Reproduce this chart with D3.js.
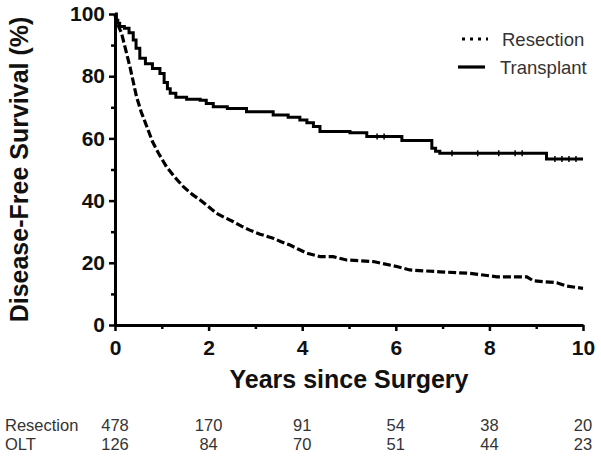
<!DOCTYPE html>
<html><head><meta charset="utf-8">
<script src="https://cdn.jsdelivr.net/npm/d3@7"></script>
<style>body{margin:0;background:#fff}svg{display:block}</style>
</head><body>
<svg id="c" width="601" height="460"></svg>
<script>
// ---- data ----
const resTimes = [0,0.02,0.05,0.14,0.22,0.32,0.4,0.46,0.56,0.68,0.8,0.93,1.1,1.28,1.46,1.65,1.82,2.0,2.17,2.35,2.53,2.7,2.88,3.1,3.38,3.55,3.74,3.9,4.1,4.25,4.38,4.66,4.95,5.52,6.02,6.3,6.94,7.59,8.16,8.8,8.94,9.44,9.65,10];
const resSurv  = [100,98,97,93.8,89,83,77.5,73.4,68.5,63.8,59,55.2,50.9,47.5,44.5,42,40.2,38,35.9,34.5,33.2,31.8,30.5,29.2,27.9,26.8,25.7,24.5,23.1,22.5,22,22,20.9,20.4,18.8,17.7,17.1,16.6,15.5,15.5,14.2,13.6,12.5,11.8];
const tpTimes = [0,0.03,0.06,0.1,0.2,0.3,0.39,0.45,0.53,0.65,0.8,0.96,1.05,1.12,1.18,1.3,1.53,1.82,1.95,2.1,2.4,2.81,3.38,3.7,3.95,4.1,4.24,4.38,5.02,5.38,6.13,6.77,6.85,6.94,9.22,10];
const tpSurv  = [100,98,97,96,95.4,94,91.6,89,85.8,84,82.5,80.9,78,76,74.5,73.2,72.6,72.3,71.2,70.2,69.6,68.6,67.5,66.8,65.9,65,63.8,62.2,61.8,60.6,59.3,56.8,55.9,55.2,53.4,53.4];
const tpCensor = [5.6,5.75,7.2,7.75,8.2,8.55,8.7,9.4,9.55,9.7,9.85];
const yTicks = [0,20,40,60,80,100];
const yMinor = [10,30,50,70,90];
const xTicks = [0,2,4,6,8,10];
const xMinor = [1,3,5,7,9];
const atRiskYears = [0,2,4,6,8,10];
const resAtRisk = [478,170,91,54,38,20];
const oltAtRisk = [126,84,70,51,44,23];
const seriesNames = ["Resection","Transplant"];
const tableLabels = ["Resection","OLT"];

// ---- drawing ----
const svg = d3.select("#c");
const x = d3.scaleLinear().domain([0,10]).range([115,583]);
const y = d3.scaleLinear().domain([0,100]).range([325,14]);
const font = "'Liberation Sans', Arial, sans-serif";

function styleAxis(g){
  g.select(".domain").attr("stroke","#000").attr("stroke-width",3);
  g.selectAll(".tick line").attr("stroke","#000").attr("stroke-width",2.5);
  g.selectAll(".tick text").attr("font-family",font).attr("font-weight","bold").attr("font-size",21).attr("fill","#111");
}
// y axis
const ya = svg.append("g").attr("transform",`translate(${x(0)},0)`)
  .call(d3.axisLeft(y).tickValues(yTicks).tickSize(6).tickSizeOuter(0).tickPadding(4));
styleAxis(ya);
const ym = svg.append("g").attr("transform",`translate(${x(0)},0)`)
  .call(d3.axisLeft(y).tickValues(yMinor).tickSize(4).tickFormat(""));
styleAxis(ym); ym.select(".domain").remove();
// x axis
const xa = svg.append("g").attr("transform",`translate(0,${y(0)})`)
  .call(d3.axisBottom(x).tickValues(xTicks).tickSize(6).tickSizeOuter(0).tickPadding(9));
styleAxis(xa);
const xm = svg.append("g").attr("transform",`translate(0,${y(0)})`)
  .call(d3.axisBottom(x).tickValues(xMinor).tickSize(4).tickFormat(""));
styleAxis(xm); xm.select(".domain").remove();

// titles
svg.append("text").attr("x",(x(0)+x(10))/2).attr("y",388).attr("text-anchor","middle")
  .attr("font-family",font).attr("font-weight","bold").attr("font-size",25).attr("fill","#111")
  .text("Years since Surgery");
svg.append("text").attr("transform",`translate(28,${(y(0)+y(100))/2}) rotate(-90)`).attr("text-anchor","middle")
  .attr("font-family",font).attr("font-weight","bold").attr("font-size",25).attr("fill","#111")
  .text("Disease-Free Survival (%)");

// curves
const resData = resTimes.map((t,i)=>[t,resSurv[i]]);
const tpData = tpTimes.map((t,i)=>[t,tpSurv[i]]);
const lineLin = d3.line().x(d=>x(d[0])).y(d=>y(d[1])).curve(d3.curveLinear);
const lineStep = d3.line().x(d=>x(d[0])).y(d=>y(d[1])).curve(d3.curveStepAfter);
svg.append("path").attr("d",lineStep(tpData)).attr("fill","none").attr("stroke","#000").attr("stroke-width",3);
svg.append("path").attr("d",lineLin(resData)).attr("fill","none").attr("stroke","#000").attr("stroke-width",3.2).attr("stroke-dasharray","8,3");
// censor marks on transplant
function stepVal(t){let v=tpSurv[0];for(let i=0;i<tpTimes.length;i++){if(tpTimes[i]<=t)v=tpSurv[i];}return v;}
svg.selectAll(".cens").data(tpCensor).enter().append("line")
  .attr("x1",d=>x(d)).attr("x2",d=>x(d)).attr("y1",d=>y(stepVal(d))-3).attr("y2",d=>y(stepVal(d))+3)
  .attr("stroke","#000").attr("stroke-width",1.5);

// legend
const lg = svg.append("g");
lg.append("line").attr("x1",462).attr("x2",488).attr("y1",39).attr("y2",39).attr("stroke","#000").attr("stroke-width",3.2).attr("stroke-dasharray","3,5");
lg.append("line").attr("x1",458).attr("x2",485).attr("y1",67).attr("y2",67).attr("stroke","#000").attr("stroke-width",3.2);
lg.append("text").attr("x",502).attr("y",46).attr("font-family",font).attr("font-size",18.5).attr("fill","#333").text(seriesNames[0]);
lg.append("text").attr("x",500).attr("y",74).attr("font-family",font).attr("font-size",18.5).attr("fill","#333").text(seriesNames[1]);

// at-risk table
const tbl = svg.append("g").attr("font-family",font).attr("font-size",16.5).attr("fill","#333");
tbl.append("text").attr("x",5).attr("y",431).text(tableLabels[0]);
tbl.append("text").attr("x",5).attr("y",450).text(tableLabels[1]);
tbl.selectAll(".r1").data(resAtRisk).enter().append("text").attr("text-anchor","middle")
  .attr("x",(d,i)=>x(atRiskYears[i])).attr("y",431).text(d=>d);
tbl.selectAll(".r2").data(oltAtRisk).enter().append("text").attr("text-anchor","middle")
  .attr("x",(d,i)=>x(atRiskYears[i])).attr("y",450).text(d=>d);
</script>
</body></html>
